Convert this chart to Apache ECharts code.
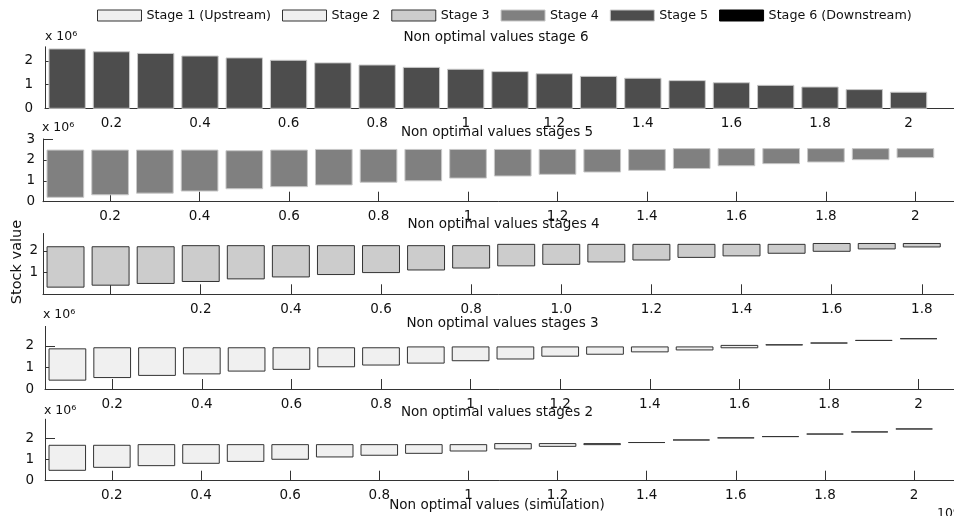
<!DOCTYPE html>
<html>
<head>
<meta charset="utf-8">
<script src="https://cdn.jsdelivr.net/npm/echarts@6/dist/echarts.min.js"></script>
<style>
html,body{margin:0;padding:0;background:#fff;}
#chart{width:954px;height:516px;}
</style>
</head>
<body>
<div id="chart"></div>
<script>
// ---------- data ----------
const legendNames = ['Stage 1 (Upstream)', 'Stage 2', 'Stage 3', 'Stage 4', 'Stage 5', 'Stage 6 (Downstream)'];
const panelTitles = ['Non optimal values stage 6', 'Non optimal values stages 5', 'Non optimal values stages 4',
                     'Non optimal values stages 3', 'Non optimal values stages 2'];
const xTitle = 'Non optimal values (simulation)';
const yTitle = 'Stock value';

const xPos = [0.1, 0.2, 0.3, 0.4, 0.5, 0.6, 0.7, 0.8, 0.9, 1.0, 1.1, 1.2, 1.3, 1.4, 1.5, 1.6, 1.7, 1.8, 1.9, 2.0];
const xPosStage4 = [-0.1, 0.0, 0.1, 0.2, 0.3, 0.4, 0.5, 0.6, 0.7, 0.8, 0.9, 1.0, 1.1, 1.2, 1.3, 1.4, 1.5, 1.6, 1.7, 1.8];

const xTicks = [0.2, 0.4, 0.6, 0.8, 1.0, 1.2, 1.4, 1.6, 1.8, 2.0];
const xTicksStage4 = [0.0, 0.2, 0.4, 0.6, 0.8, 1.0, 1.2, 1.4, 1.6, 1.8, 2.0];
const xLabelsStage4 = [0.2, 0.4, 0.6, 0.8, 1.0, 1.2, 1.4, 1.6, 1.8];

// values in units of 10^6
const stage6Low  = [0, 0, 0, 0, 0, 0, 0, 0, 0, 0, 0, 0, 0, 0, 0, 0, 0, 0, 0, 0];
const stage6High = [2.51, 2.39, 2.32, 2.21, 2.13, 2.03, 1.92, 1.83, 1.73, 1.65, 1.55, 1.46, 1.35, 1.27, 1.17, 1.08, 0.97, 0.90, 0.79, 0.68];

const stage5Low  = [0.21, 0.33, 0.41, 0.51, 0.62, 0.72, 0.80, 0.93, 1.00, 1.13, 1.23, 1.31, 1.42, 1.50, 1.59, 1.72, 1.82, 1.90, 2.01, 2.11];
const stage5High = [2.47, 2.47, 2.47, 2.47, 2.44, 2.47, 2.50, 2.50, 2.50, 2.50, 2.50, 2.50, 2.50, 2.50, 2.54, 2.54, 2.54, 2.54, 2.54, 2.54];

const stage4Low  = [0.33, 0.42, 0.50, 0.59, 0.71, 0.80, 0.91, 1.00, 1.12, 1.21, 1.31, 1.38, 1.49, 1.58, 1.70, 1.77, 1.89, 1.98, 2.09, 2.18];
const stage4High = [2.19, 2.19, 2.19, 2.24, 2.24, 2.24, 2.24, 2.24, 2.24, 2.24, 2.30, 2.30, 2.30, 2.30, 2.30, 2.30, 2.30, 2.34, 2.34, 2.34];

const stage3Low  = [0.41, 0.53, 0.63, 0.70, 0.83, 0.91, 1.03, 1.11, 1.20, 1.31, 1.39, 1.52, 1.61, 1.72, 1.81, 1.91, 2.04, 2.13, 2.25, 2.33];
const stage3High = [1.86, 1.91, 1.91, 1.91, 1.91, 1.91, 1.91, 1.91, 1.95, 1.95, 1.95, 1.95, 1.95, 1.95, 1.95, 2.02, 2.05, 2.13, 2.25, 2.33];

const stage2Low  = [0.49, 0.63, 0.71, 0.82, 0.91, 1.01, 1.12, 1.20, 1.29, 1.40, 1.50, 1.62, 1.70, 1.80, 1.92, 2.02, 2.08, 2.20, 2.30, 2.44];
const stage2High = [1.67, 1.67, 1.70, 1.70, 1.70, 1.70, 1.70, 1.70, 1.70, 1.70, 1.75, 1.75, 1.75, 1.80, 1.92, 2.02, 2.08, 2.20, 2.30, 2.44];

// ---------- styling / layout ----------
const FONT = 'DejaVu Sans';
const TXT = '#111';
const AXC = '#333';
const BAR_W = 0.082;

const legendStyles = [
  {color: '#f0f0f0', borderColor: '#333'},
  {color: '#f0f0f0', borderColor: '#333'},
  {color: '#cccccc', borderColor: '#333'},
  {color: '#808080', borderColor: '#c8c8c8'},
  {color: '#4d4d4d', borderColor: '#c8c8c8'},
  {color: '#000000', borderColor: '#000'}
];

// panels top to bottom
const panels = [
  {x: xPos, lo: stage6Low, hi: stage6High, legend: 4, grid: {left: 45, top: 46.8, width: 930, height: 61.5},
   xmin: 0.05, xmax: 2.15, ymax: 2.6, yTicks: [0, 1, 2], yLabels: [0, 1, 2], yMargin: 12,
   xTicks: xTicks, xLabels: xTicks, fmt: v => String(+v.toFixed(1))},
  {x: xPos, lo: stage5Low, hi: stage5High, legend: 3, grid: {left: 43, top: 139, width: 939.5, height: 62.7},
   xmin: 0.05, xmax: 2.15, ymax: 3, yTicks: [0, 1, 2, 3], yLabels: [0, 1, 2, 3], yMargin: 8,
   xTicks: xTicks, xLabels: xTicks, fmt: v => String(+v.toFixed(1))},
  {x: xPosStage4, lo: stage4Low, hi: stage4High, legend: 2, grid: {left: 43, top: 233.5, width: 1014, height: 60.8},
   xmin: -0.15, xmax: 2.1, ymax: 2.8, yTicks: [0, 1, 2], yLabels: [1, 2], yMargin: 5,
   xTicks: xTicksStage4, xLabels: xLabelsStage4, fmt: v => v.toFixed(1)},
  {x: xPos, lo: stage3Low, hi: stage3High, legend: 1, grid: {left: 45, top: 326.4, width: 940.8, height: 62.6},
   xmin: 0.05, xmax: 2.15, ymax: 2.9, yTicks: [0, 1, 2], yLabels: [0, 1, 2], yMargin: 11,
   xTicks: xTicks, xLabels: xTicks, fmt: v => String(+v.toFixed(1))},
  {x: xPos, lo: stage2Low, hi: stage2High, legend: 0, grid: {left: 45, top: 419.2, width: 936, height: 61.5},
   xmin: 0.05, xmax: 2.15, ymax: 2.9, yTicks: [0, 1, 2], yLabels: [0, 1, 2], yMargin: 11,
   xTicks: xTicks, xLabels: xTicks, fmt: v => String(+v.toFixed(1))}
];

const titleCenters = [[496, 37], [497, 132.5], [503.5, 224.5], [502.5, 323.5], [497, 412.5]];
const expLabels = [[45, 37], [42, 128], [43, 315], [44, 411]];

const grids = [], xAxes = [], yAxes = [], series = [];

function makeRender(style) {
  return function (params, api) {
    const x = api.value(0), lo = api.value(1), hi = api.value(2);
    const pTop = api.coord([x, hi]);
    const pBot = api.coord([x, lo]);
    const w = api.size([BAR_W, 0])[0];
    return {
      type: 'rect',
      shape: {x: pTop[0] - w / 2, y: pTop[1], width: w, height: Math.max(0, pBot[1] - pTop[1])},
      style: {fill: style.color, stroke: style.borderColor, lineWidth: 1}
    };
  };
}

panels.forEach((p, i) => {
  grids.push(Object.assign({containLabel: false, outerBoundsMode: 'none'}, p.grid));
  xAxes.push({
    type: 'value', gridIndex: i, min: p.xmin, max: p.xmax,
    axisLine: {show: true, onZero: false, lineStyle: {color: AXC, width: 1}},
    axisTick: {show: true, inside: true, length: 10, customValues: p.xTicks, lineStyle: {color: AXC}},
    axisLabel: {show: true, customValues: p.xLabels, formatter: p.fmt, margin: 8,
                color: TXT, fontFamily: FONT, fontSize: 13.5},
    splitLine: {show: false}
  });
  yAxes.push({
    type: 'value', gridIndex: i, min: 0, max: p.ymax,
    axisLine: {show: true, onZero: false, lineStyle: {color: AXC, width: 1}},
    axisTick: {show: true, inside: true, length: 10, customValues: p.yTicks, lineStyle: {color: AXC}},
    axisLabel: {show: true, customValues: p.yLabels, margin: p.yMargin,
                color: TXT, fontFamily: FONT, fontSize: 13.5},
    splitLine: {show: false}
  });
  const st = legendStyles[p.legend];
  series.push({
    type: 'custom', name: legendNames[p.legend], xAxisIndex: i, yAxisIndex: i,
    itemStyle: {color: st.color, borderColor: st.borderColor, borderWidth: 1},
    encode: {x: 0, y: [1, 2]},
    renderItem: makeRender(st),
    data: p.x.map((xv, k) => [xv, p.lo[k], p.hi[k]]),
    silent: true, animation: false
  });
});
// Stage 6 (Downstream) has no visible floating bars in these panels: legend entry only
series.push({
  type: 'custom', name: legendNames[5], xAxisIndex: 0, yAxisIndex: 0,
  itemStyle: {color: legendStyles[5].color, borderColor: legendStyles[5].borderColor, borderWidth: 1},
  renderItem: makeRender(legendStyles[5]), data: [], silent: true, animation: false
});

const graphics = [];
panelTitles.forEach((t, i) => {
  graphics.push({type: 'text', x: titleCenters[i][0], y: titleCenters[i][1], silent: true,
    style: {text: t, fontFamily: FONT, fontSize: 13.5, fill: TXT, align: 'center', verticalAlign: 'middle'}});
});
expLabels.forEach(e => {
  graphics.push({type: 'text', x: e[0], y: e[1], silent: true,
    style: {text: 'x 10\u2076', fontFamily: FONT, fontSize: 12.5, fill: TXT, align: 'left', verticalAlign: 'middle'}});
});
graphics.push({type: 'text', x: 497, y: 505, silent: true,
  style: {text: xTitle, fontFamily: FONT, fontSize: 13.5, fill: TXT, align: 'center', verticalAlign: 'middle'}});
graphics.push({type: 'text', x: 937, y: 507, silent: true,
  style: {text: '10\u2076', fontFamily: FONT, fontSize: 12.5, fill: TXT, align: 'left', verticalAlign: 'top'}});
graphics.push({type: 'text', x: 17, y: 262, rotation: Math.PI / 2, silent: true,
  style: {text: yTitle, fontFamily: FONT, fontSize: 14.5, fill: TXT, align: 'center', verticalAlign: 'middle'}});

const chart = echarts.init(document.getElementById('chart'), null, {renderer: 'canvas'});
chart.setOption({
  animation: false,
  backgroundColor: '#ffffff',
  legend: {
    show: true, selectedMode: false, left: 97, top: 9, padding: 0,
    itemWidth: 44, itemHeight: 11, itemGap: 11, icon: 'rect',
    itemStyle: {borderWidth: 1},
    textStyle: {fontFamily: FONT, fontSize: 12.7, color: TXT, padding: [0, 0, 0, 0]},
    data: legendNames.map((n, k) => ({name: n, icon: 'rect',
      itemStyle: {color: legendStyles[k].color, borderColor: legendStyles[k].borderColor, borderWidth: 1}}))
  },
  grid: grids,
  xAxis: xAxes,
  yAxis: yAxes,
  series: series,
  graphic: graphics
});
</script>
</body>
</html>
